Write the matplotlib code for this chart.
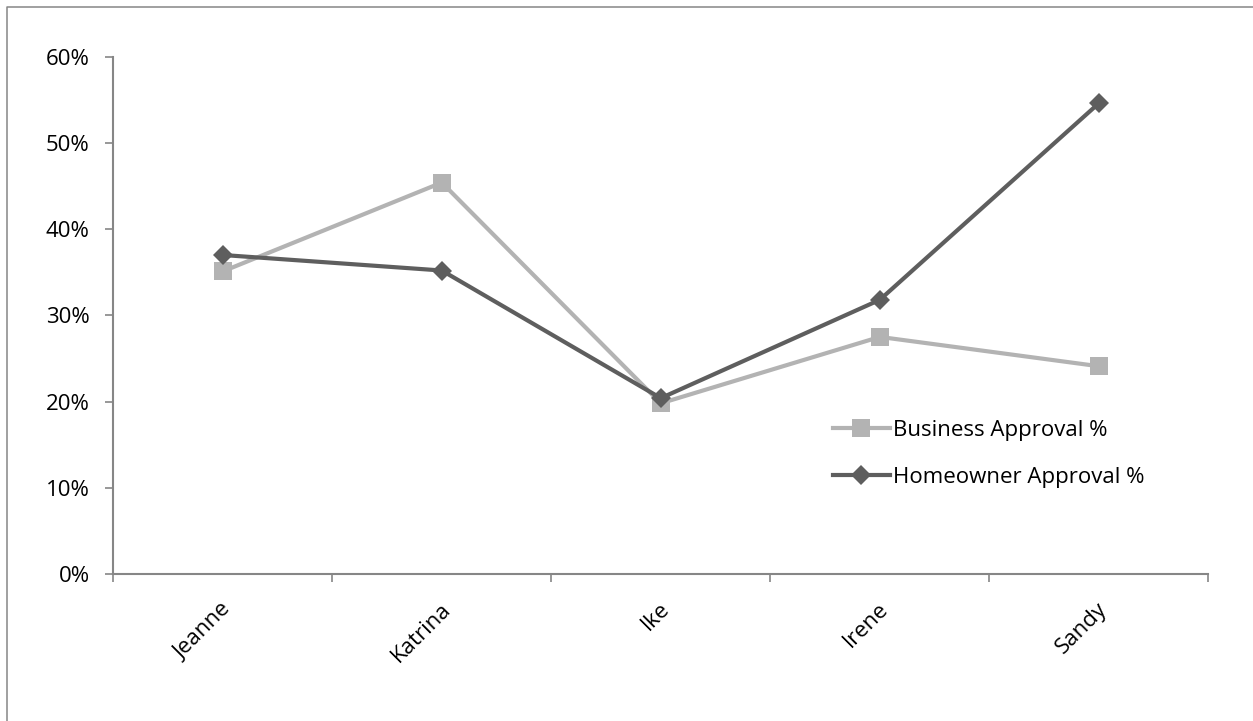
import matplotlib
matplotlib.use("Agg")
import matplotlib.pyplot as plt
from matplotlib.lines import Line2D
from matplotlib.ticker import FixedLocator, PercentFormatter
from matplotlib.transforms import ScaledTranslation

categories = ["Jeanne", "Katrina", "Ike", "Irene", "Sandy"]
business = [35.1, 45.4, 19.8, 27.5, 24.1]
homeowner = [37.0, 35.2, 20.4, 31.8, 54.6]
yticks = [0, 10, 20, 30, 40, 50, 60]

plt.rcParams['font.family'] = ['Open Sans', 'DejaVu Sans']

W, H = 1253, 721
fig = plt.figure(figsize=(W / 100, H / 100), dpi=100)
fig.patch.set_facecolor('white')

# outer chart border (top and left edges visible in the crop)
fig.lines.append(Line2D([7 / W, 7 / W, 1.0], [0.0, (H - 6.5) / H, (H - 6.5) / H],
                        transform=fig.transFigure, color='#868686', linewidth=1.1))

ax = fig.add_axes([113.3 / W, (H - 574) / H, 1095 / W, 517.3 / H])
x = [i + 0.5 for i in range(len(categories))]

ax.plot(x, business, color='#B3B3B3', lw=3, marker='s', ms=13,
        markeredgewidth=0, label='Business Approval %', zorder=3)
ax.plot(x, homeowner, color='#5E5E5E', lw=3, marker='D', ms=10,
        markeredgewidth=0, label='Homeowner Approval %', zorder=4)

ax.set_xlim(0, len(categories))
ax.set_ylim(0, 60)
ax.set_yticks(yticks)
ax.yaxis.set_major_formatter(PercentFormatter(decimals=0))

ax.set_xticks(x)
ax.set_xticklabels(categories, rotation=45, ha='right', rotation_mode='default')
ax.xaxis.set_minor_locator(FixedLocator(list(range(len(categories) + 1))))
ax.tick_params(axis='x', which='major', length=0, pad=14, labelsize=16)
ax.tick_params(axis='x', which='minor', length=6, width=1.2, color='#868686', direction='out')
ax.tick_params(axis='y', length=6, width=1.2, color='#868686', pad=11, labelsize=16)
shift = ScaledTranslation(13 / 100, -5 / 100, fig.dpi_scale_trans)
for tick in ax.xaxis.get_major_ticks():
    tick.label1.set_transform(tick.label1.get_transform() + shift)

for s in ['top', 'right']:
    ax.spines[s].set_visible(False)
for s in ['left', 'bottom']:
    ax.spines[s].set_color('#868686')
    ax.spines[s].set_linewidth(1.5)

leg = ax.legend(loc='upper left', bbox_to_anchor=(833 / W, (H - 420) / H),
                bbox_transform=fig.transFigure, frameon=False, fontsize=16,
                handlelength=2.55, handletextpad=0.15, borderpad=0,
                borderaxespad=0, labelspacing=1.15)

fig.savefig('out.png', dpi=100)
